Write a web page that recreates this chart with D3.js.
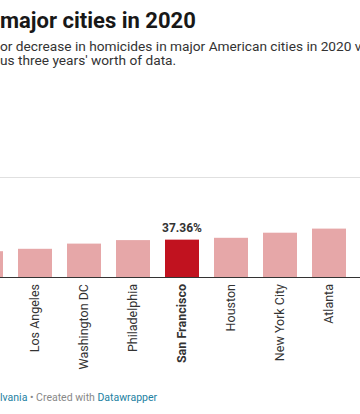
<!DOCTYPE html>
<html>
<head>
<meta charset="utf-8">
<script src="https://cdn.jsdelivr.net/npm/d3@7"></script>
<style>
  html, body { margin: 0; padding: 0; background: #fff; overflow: hidden; }
  svg { display: block; font-family: Roboto, "Noto Sans", sans-serif; }
</style>
</head>
<body>
<svg id="chart" width="360" height="414"></svg>
<script>
// Data (cities sorted ascending; leftmost bar is only partly in view, its label is off-screen)
const cities = ["Dallas", "Los Angeles", "Washington DC", "Philadelphia", "San Francisco", "Houston", "New York City", "Atlanta"];
const changePct = [25.8, 28.2, 33.4, 36.9, 37.36, 39.2, 44.3, 48.4];
const labelledCities = ["Los Angeles", "Washington DC", "Philadelphia", "San Francisco", "Houston", "New York City", "Atlanta"];
const highlightCity = "San Francisco";
const valueLabels = ["37.36%"];

const titleText = "major cities in 2020";
const subtitleLines = ["or decrease in homicides in major American cities in 2020 v", "us three years' worth of data."];
const footerParts = [
  { text: "lvania", color: "#1d81a2" },
  { text: " \u2022 Created with ", color: "#888888" },
  { text: "Datawrapper", color: "#1d81a2" }
];

const svg = d3.select("#chart");

// Header
svg.append("text").attr("x", 0).attr("y", 28)
  .attr("font-size", 22).attr("font-weight", 700).attr("fill", "#181818")
  .text(titleText);

svg.append("text").attr("x", 0).attr("y", 51)
  .attr("font-size", 13.7).attr("fill", "#333")
  .selectAll("tspan").data(subtitleLines).join("tspan")
  .attr("x", 0).attr("dy", (d, i) => i === 0 ? 0 : 14.2)
  .text(d => d);

// Top separator
svg.append("line").attr("x1", 0).attr("x2", 360).attr("y1", 177.5).attr("y2", 177.5)
  .attr("stroke", "#e0e0e0").attr("stroke-width", 1);

// Scales
const step = 49, pIn = 15 / 49;
const x = d3.scaleBand().domain(cities)
  .range([-38.5, -38.5 + cities.length * step])
  .paddingInner(pIn).paddingOuter(pIn / 2);
const y = d3.scaleLinear().domain([0, 100]).range([277, 177]);

const data = cities.map((c, i) => ({ city: c, value: changePct[i] }));

svg.append("g").selectAll("rect").data(data).join("rect")
  .attr("x", d => x(d.city))
  .attr("width", x.bandwidth())
  .attr("y", d => y(d.value))
  .attr("height", d => y(0) - y(d.value))
  .attr("fill", d => d.city === highlightCity ? "#c1121f" : "#e6a7a8");

// Value label on highlighted bar
const hi = data.find(d => d.city === highlightCity);
svg.append("text")
  .attr("x", x(hi.city) + x.bandwidth() / 2)
  .attr("y", y(hi.value) - 8)
  .attr("text-anchor", "middle")
  .attr("font-size", 12).attr("font-weight", 700).attr("fill", "#333")
  .text(valueLabels[0]);

// X axis with rotated labels
const axis = svg.append("g").attr("transform", "translate(0,277)")
  .call(d3.axisBottom(x).tickValues(labelledCities).tickSize(0).tickPadding(0));
axis.select(".domain").remove();
axis.selectAll(".tick text")
  .attr("transform", "rotate(-90)")
  .attr("x", -7).attr("y", 0).attr("dy", "0.35em")
  .attr("text-anchor", "end")
  .attr("font-family", "Roboto, 'Noto Sans', sans-serif")
  .attr("font-size", 12.5)
  .attr("fill", "#333")
  .attr("font-weight", d => d === highlightCity ? 700 : 400);

// Baseline
svg.append("line").attr("x1", 0).attr("x2", 360).attr("y1", 277.5).attr("y2", 277.5)
  .attr("stroke", "#333").attr("stroke-width", 1.2);

// Footer
svg.append("text").attr("x", 0).attr("y", 400.5).attr("font-size", 10.5)
  .selectAll("tspan").data(footerParts).join("tspan")
  .attr("fill", d => d.color).text(d => d.text);
</script>
</body>
</html>
